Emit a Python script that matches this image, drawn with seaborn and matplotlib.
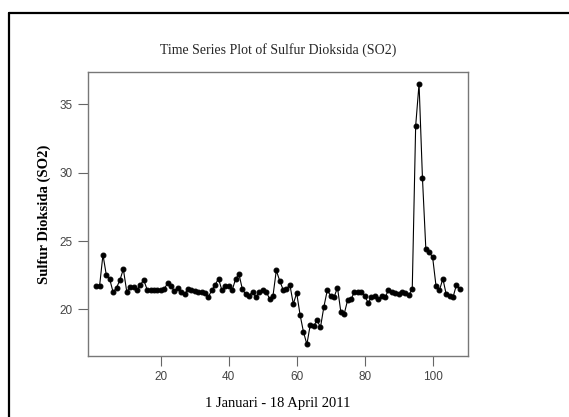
import matplotlib
matplotlib.use("Agg")
import matplotlib.pyplot as plt
from matplotlib.lines import Line2D
import seaborn as sns
import pandas as pd

days = list(range(1, 109))
so2 = [21.7, 21.7, 24.0, 22.5, 22.2, 21.25, 21.6, 22.15, 22.95, 21.3,
       21.65, 21.65, 21.4, 21.8, 22.15, 21.45, 21.4, 21.4, 21.4, 21.4,
       21.5, 21.9, 21.7, 21.35, 21.6, 21.25, 21.1, 21.5, 21.4, 21.35,
       21.3, 21.25, 21.2, 20.9, 21.4, 21.8, 22.25, 21.4, 21.7, 21.7,
       21.4, 22.2, 22.6, 21.5, 21.1, 21.0, 21.3, 20.9, 21.25, 21.4,
       21.3, 20.8, 20.95, 22.85, 22.1, 21.45, 21.5, 21.8, 20.4, 21.2,
       19.6, 18.35, 17.45, 18.9, 18.8, 19.2, 18.7, 20.2, 21.4, 21.0,
       20.9, 21.6, 19.8, 19.7, 20.7, 20.75, 21.3, 21.3, 21.3, 21.0,
       20.5, 20.9, 20.95, 20.75, 20.95, 20.9, 21.4, 21.3, 21.2, 21.1,
       21.3, 21.2, 21.05, 21.5, 33.4, 36.5, 29.6, 24.4, 24.2, 23.8,
       21.7, 21.4, 22.25, 21.1, 21.0, 20.9, 21.8, 21.5]
xticks = [20, 40, 60, 80, 100]
yticks = [20, 25, 30, 35]

title = "Time Series Plot of Sulfur Dioksida (SO2)"
xlabel = "1 Januari - 18 April 2011"
ylabel = "Sulfur Dioksida (SO2)"

df = pd.DataFrame({"day": days, "so2": so2})

sns.set_style("white")
serif = ["Liberation Serif", "DejaVu Serif"]
narrow = ["Liberation Sans Narrow", "Liberation Sans", "DejaVu Sans"]

fig = plt.figure(figsize=(5.69, 4.17), dpi=100)
ax = fig.add_axes([88/569, 1 - 356/417, (468 - 88)/569, (356 - 72)/417])

sns.lineplot(data=df, x="day", y="so2", ax=ax, color="black", linewidth=0.8,
             marker="o", markersize=3.5, markeredgecolor="black",
             markerfacecolor="black")

ax.set_xlim(-1.4, 110.4)
ax.set_ylim(16.6, 37.35)
ax.set_xticks(xticks)
ax.set_yticks(yticks)
ax.set_xticklabels([str(t) for t in xticks], family=narrow, fontsize=8.5, color="#444444")
ax.set_yticklabels([str(t) for t in yticks], family=narrow, fontsize=8.5, color="#444444")
ax.tick_params(axis="both", direction="out", length=7, width=0.8, color="#666666",
               bottom=True, left=True, pad=4)
for s in ax.spines.values():
    s.set_color("#777777")
    s.set_linewidth(1.0)

ax.set_xlabel(xlabel, family=serif, fontsize=10.5, color="black", labelpad=10)
ax.set_ylabel(ylabel, family=serif, fontsize=10.5, fontweight="bold", color="black", labelpad=6)
fig.text(278/569, 1 - 50/417, title, family=serif, fontsize=10, ha="center", va="center")

# outer frame (cropped box)
fig.add_artist(Line2D([9/569, 1.0], [1 - 13/417, 1 - 13/417], color="black", linewidth=1.6,
                      transform=fig.transFigure))
fig.add_artist(Line2D([9/569, 9/569], [1 - 13/417, 0.0], color="black", linewidth=1.6,
                      transform=fig.transFigure))

fig.savefig("out.png", dpi=100)
